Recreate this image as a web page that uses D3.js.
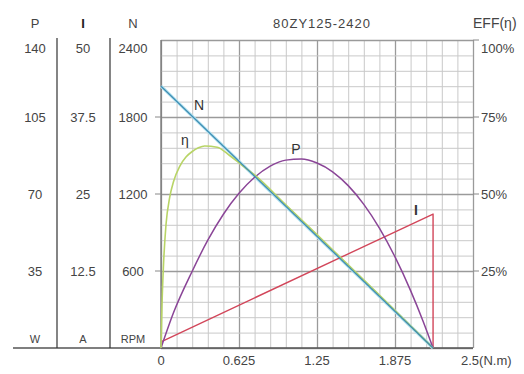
<!DOCTYPE html>
<html>
<head>
<meta charset="utf-8">
<script src="https://cdn.jsdelivr.net/npm/d3@7"></script>
<style>
    html, body { margin: 0; padding: 0; background: #fff; }
    svg { display: block; font-family: "Liberation Sans", Arial, sans-serif; }
</style>
</head>
<body>
<div id="chart"></div>
<script>
// Chart data
const chartTitle = '80ZY125-2420';
const xTicks = [0, 0.625, 1.25, 1.875, 2.5];
const xTickLabels = ['0', '0.625', '1.25', '1.875', '2.5(N.m)'];

const powerTicks = [140, 105, 70, 35];
const currentTicks = [50, 37.5, 25, 12.5];
const speedTicks = [2400, 1800, 1200, 600];
const effTicks = [100, 75, 50, 25];

const axisHeaders = ['P', 'I', 'N'];
const axisUnits = ['W', 'A', 'RPM'];

// N (RPM) vs torque
const speedTorque = [0, 2.18];
const speedValues = [2040, 0];

// I (A) vs torque, drops to zero at stall
const currentTorque = [0, 2.18, 2.18];
const currentValues = [1.0, 21.75, 0];

// P (W) vs torque
const powerTorque = [0, 0.1, 0.25, 0.375, 0.5, 0.625, 0.75, 0.875, 1.0, 1.125, 1.25, 1.375, 1.5, 1.625, 1.75, 1.875, 2.0, 2.1, 2.18];
const powerValues = [0, 16, 34.9, 49, 60.8, 70.3, 77.6, 82.7, 85.4, 85.9, 84.1, 80.1, 73.8, 65.3, 54.5, 41.4, 26.1, 12.2, 0];

// Efficiency (%) vs torque
const effTorque = [0, 0.008, 0.02, 0.04, 0.07, 0.1, 0.15, 0.2, 0.25, 0.3, 0.35, 0.45, 0.55, 0.65, 0.75, 1.0, 1.25, 1.5, 1.75, 2.0, 2.18];
const effValues = [0, 14, 27, 40, 49, 54, 59, 62, 63.8, 65, 65.6, 65.2, 62.5, 59.3, 56.2, 46.5, 36.8, 27, 17.2, 7.2, 0];

const MotorChart = {
    svg: null,
    width: 524,
    height: 374,
    plot: { left: 161, right: 473, top: 40, bottom: 348 },
    columns: [35, 83, 133],

    init(containerId) {
        const container = d3.select(`#${containerId}`);
        container.selectAll('*').remove();

        this.svg = container.append('svg')
            .attr('width', this.width)
            .attr('height', this.height);

        const p = this.plot;
        this.x = d3.scaleLinear().domain([0, 2.5]).range([p.left, p.right]);
        this.yP = d3.scaleLinear().domain([0, 140]).range([p.bottom, p.top]);
        this.yI = d3.scaleLinear().domain([0, 50]).range([p.bottom, p.top]);
        this.yN = d3.scaleLinear().domain([0, 2400]).range([p.bottom, p.top]);
        this.yE = d3.scaleLinear().domain([0, 100]).range([p.bottom, p.top]);

        this.drawGrid();
        this.drawLeftAxes();
        this.drawRightAxis();
        this.drawXAxis();
        this.drawCurves();
        this.drawLabels();
    },

    // Minor + major grid
    drawGrid() {
        const p = this.plot;
        const g = this.svg.append('g').attr('class', 'grid');
        const xMinor = d3.range(0, 21).map(i => i * 0.125);
        const yMinor = d3.range(0, 21).map(i => i * 5);

        g.append('g')
            .attr('transform', `translate(0,${p.bottom})`)
            .call(d3.axisBottom(this.x).tickValues(xMinor).tickSize(-(p.bottom - p.top)).tickFormat(''))
            .call(s => s.select('.domain').remove())
            .selectAll('line')
            .attr('stroke', (d, i) => i % 5 === 0 ? '#9a9a9a' : '#c9c9c9')
            .attr('stroke-width', (d, i) => i % 5 === 0 ? 1.3 : 1);

        g.append('g')
            .attr('transform', `translate(${p.left},0)`)
            .call(d3.axisLeft(this.yE).tickValues(yMinor).tickSize(-(p.right - p.left)).tickFormat(''))
            .call(s => s.select('.domain').remove())
            .selectAll('line')
            .attr('stroke', (d, i) => i % 5 === 0 ? '#9a9a9a' : '#c9c9c9')
            .attr('stroke-width', (d, i) => i % 5 === 0 ? 1.3 : 1);

        // left border and base line
        g.append('line')
            .attr('x1', p.left).attr('x2', p.left)
            .attr('y1', p.top).attr('y2', p.bottom)
            .attr('stroke', '#777').attr('stroke-width', 1.3);
        g.append('line')
            .attr('x1', 13).attr('x2', p.right)
            .attr('y1', p.bottom).attr('y2', p.bottom)
            .attr('stroke', '#555').attr('stroke-width', 1.3);

        // small tick marks outside the plot on both sides
        [75, 50, 25].forEach(v => {
            g.append('line')
                .attr('x1', p.left - 6).attr('x2', p.left)
                .attr('y1', this.yE(v)).attr('y2', this.yE(v))
                .attr('stroke', '#888');
        });
        [100, 75, 50, 25].forEach(v => {
            g.append('line')
                .attr('x1', p.right).attr('x2', p.right + 6)
                .attr('y1', this.yE(v)).attr('y2', this.yE(v))
                .attr('stroke', '#888');
        });
    },

    // P / I / N columns on the left
    drawLeftAxes() {
        const p = this.plot;
        const g = this.svg.append('g')
            .attr('font-size', '13px')
            .attr('fill', '#444')
            .attr('text-anchor', 'middle');

        [57, 110].forEach(sx => {
            g.append('line')
                .attr('x1', sx).attr('x2', sx)
                .attr('y1', 38).attr('y2', p.bottom)
                .attr('stroke', '#333').attr('stroke-width', 1.2);
        });

        axisHeaders.forEach((h, i) => {
            g.append('text')
                .attr('x', this.columns[i])
                .attr('y', 28)
                .attr('font-weight', h === 'I' ? 'bold' : null)
                .attr('fill', h === 'I' ? '#222' : '#444')
                .text(h);
        });

        axisUnits.forEach((u, i) => {
            g.append('text')
                .attr('x', this.columns[i])
                .attr('y', 343)
                .attr('font-size', '11px')
                .text(u);
        });

        const cols = [
            { ticks: powerTicks, scale: this.yP },
            { ticks: currentTicks, scale: this.yI },
            { ticks: speedTicks, scale: this.yN }
        ];
        cols.forEach((c, ci) => {
            c.ticks.forEach((t, i) => {
                g.append('text')
                    .attr('x', this.columns[ci])
                    .attr('y', c.scale(t) + (i === 0 ? 12.5 : 4.5))
                    .text(t);
            });
        });
    },

    // Efficiency axis on the right
    drawRightAxis() {
        const p = this.plot;
        const g = this.svg.append('g')
            .attr('font-size', '13px')
            .attr('fill', '#444');

        effTicks.forEach((t, i) => {
            g.append('text')
                .attr('x', p.right + 8)
                .attr('y', this.yE(t) + (i === 0 ? 12.5 : 4.5))
                .text(t + '%');
        });

        g.append('text')
            .attr('x', p.right)
            .attr('y', 28)
            .attr('font-size', '14px')
            .text('EFF(η)');

        g.append('text')
            .attr('x', (p.left + p.right) / 2 + 5)
            .attr('y', 28)
            .attr('text-anchor', 'middle')
            .attr('letter-spacing', '1px')
            .text(chartTitle);
    },

    drawXAxis() {
        const g = this.svg.append('g')
            .attr('font-size', '13px')
            .attr('fill', '#444');

        xTicks.forEach((t, i) => {
            const last = i === xTicks.length - 1;
            g.append('text')
                .attr('x', this.x(t) + (last ? -12 : 0))
                .attr('y', 365)
                .attr('text-anchor', last ? 'start' : 'middle')
                .text(xTickLabels[i]);
        });
    },

    drawLine(xs, ys, yScale, color, width, curve) {
        const pts = xs.map((t, i) => [t, ys[i]]);
        const line = d3.line()
            .x(d => this.x(d[0]))
            .y(d => yScale(d[1]))
            .curve(curve || d3.curveLinear);
        return this.svg.append('path')
            .datum(pts)
            .attr('d', line)
            .attr('fill', 'none')
            .attr('stroke', color)
            .attr('stroke-width', width)
            .attr('stroke-linejoin', 'round');
    },

    drawCurves() {
        // speed line has a light cyan halo
        this.drawLine(speedTorque, speedValues, this.yN, '#b5e3f0', 3.2);
        this.drawLine(currentTorque, currentValues, this.yI, '#d2465a', 1.4);
        this.drawLine(powerTorque, powerValues, this.yP, '#8a4597', 1.5, d3.curveMonotoneX);
        this.drawLine(effTorque, effValues, this.yE, '#b8d466', 1.6, d3.curveMonotoneX);
        this.drawLine(speedTorque, speedValues, this.yN, '#3f8db3', 1.3);
    },

    drawLabels() {
        const g = this.svg.append('g')
            .attr('font-size', '14px')
            .attr('fill', '#333')
            .attr('text-anchor', 'middle');
        g.append('text').attr('x', 199).attr('y', 110).text('N');
        g.append('text').attr('x', 185).attr('y', 145).text('η');
        g.append('text').attr('x', 296).attr('y', 154).text('P');
        g.append('text').attr('x', 416).attr('y', 215).attr('font-weight', 'bold').text('I');
    }
};

MotorChart.init('chart');
</script>
</body>
</html>
